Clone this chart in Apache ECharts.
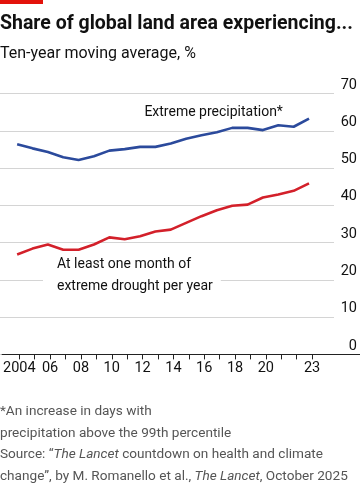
<!DOCTYPE html>
<html><head><meta charset="utf-8">
<script src="https://cdn.jsdelivr.net/npm/echarts@6/dist/echarts.min.js"></script>
<style>html,body{margin:0;padding:0;background:#fff}#c{width:360px;height:484px}</style>
</head><body><div id="c"></div>
<script>
const years = [2004,2005,2006,2007,2008,2009,2010,2011,2012,2013,2014,2015,2016,2017,2018,2019,2020,2021,2022,2023];
const precipitation = [56.4,55.3,54.3,52.9,52.2,53.2,54.7,55.1,55.7,55.7,56.6,57.9,58.8,59.6,60.8,60.8,60.2,61.5,61.1,63.3];
const drought = [26.8,28.4,29.5,28.1,28.1,29.5,31.4,30.9,31.7,33.0,33.5,35.3,37.1,38.7,39.9,40.2,42.1,42.9,43.9,45.9];
const tickYears = years;
const labelYears = [2004,2006,2008,2010,2012,2014,2016,2018,2020,2023];
const yTicks = [0,10,20,30,40,50,60,70];

const FONT = 'Roboto, "Noto Sans", sans-serif';
const chart = echarts.init(document.getElementById('c'), null, {renderer:'canvas'});
const pxPerYear = 15.5;
const xMin = 2004 - 17.3/pxPerYear;
const lbl = {fontFamily:FONT, fontSize:14, color:'#111', fontWeight:'normal'};
const FN = 13.6;
chart.setOption({
  animation:false,
  textStyle:{fontFamily:FONT},
  title:[
    {text:'Share of global land area experiencing...', left:0, top:14, padding:0,
     textStyle:{fontFamily:FONT, fontSize:19.5, fontWeight:'bold', color:'#111'}},
    {text:'Ten-year moving average, %', left:0, top:46, padding:0,
     textStyle:{fontFamily:FONT, fontSize:16, fontWeight:'normal', color:'#111'}},
    {text:'*An increase in days with\nprecipitation above the 99th percentile', left:0, top:401, padding:0,
     textStyle:{fontFamily:FONT, fontSize:FN, fontWeight:'normal', color:'#555', lineHeight:21.5}},
    {text:'{n|Source: \u201c}{i|The Lancet}{n| countdown on health and climate}\n{n|change\u201d, by M. Romanello et al., }{i|The Lancet}{n|, October 2025}',
     left:0, top:444, padding:0,
     textStyle:{fontFamily:FONT, fontSize:FN, fontWeight:'normal', color:'#555', lineHeight:21.5,
       rich:{n:{fontFamily:FONT,fontSize:FN,fontWeight:'normal',color:'#555',lineHeight:21.5},
             i:{fontFamily:FONT,fontSize:FN,fontWeight:'normal',color:'#555',fontStyle:'italic',lineHeight:21.5}}}}
  ],
  graphic:[{type:'rect', shape:{x:0,y:0,width:43,height:4}, style:{fill:'#e3120b'}}],
  grid:[
    {left:0, right:23, top:93.6, bottom:129.6},
    {left:0, right:0, top:93.6, bottom:129.6}
  ],
  xAxis:[
    {type:'value', gridIndex:0, min:xMin, max:xMin+337/pxPerYear, show:false, splitLine:{show:false}},
    {type:'value', gridIndex:1, min:xMin, max:xMin+360/pxPerYear,
     axisLine:{show:true, onZero:false, lineStyle:{color:'#222', width:1}},
     axisTick:{show:true, length:5, customValues:tickYears, lineStyle:{color:'#222'}},
     axisLabel:Object.assign({show:true, customValues:labelYears, margin:6,
       formatter:v=> v===2004 ? '2004' : String(v).slice(2)}, lbl, {fontSize:14.5}),
     splitLine:{show:false}}
  ],
  yAxis:[
    {type:'value', gridIndex:0, position:'right', min:0, max:70, interval:10,
     axisLine:{show:false}, axisTick:{show:false},
     axisLabel:Object.assign({show:true, inside:false, margin:23, align:'right', verticalAlign:'bottom', lineHeight:17,
       customValues:yTicks}, lbl, {fontSize:14.5}),
     splitLine:{show:true, lineStyle:{color:'#d4d4d4', width:1}}},
    {type:'value', gridIndex:1, min:0, max:70, show:false, splitLine:{show:false}}
  ],
  series:[
    {type:'line', name:'Extreme precipitation*', xAxisIndex:0, yAxisIndex:0,
     data:years.map((y,i)=>[y,precipitation[i]]), showSymbol:false, symbol:'none',
     lineStyle:{color:'#2b4a9c', width:2.6}, z:3,
     markPoint:{symbol:'rect', symbolSize:1, itemStyle:{color:'rgba(0,0,0,0)'}, silent:true, data:[{coord:[2012.25,65.05],
       label:Object.assign({show:true, position:'right', distance:0, formatter:'Extreme precipitation*'}, lbl)}]}},
    {type:'line', name:'drought', xAxisIndex:0, yAxisIndex:0,
     data:years.map((y,i)=>[y,drought[i]]), showSymbol:false, symbol:'none',
     lineStyle:{color:'#d3202a', width:2.6}, z:3,
     markPoint:{symbol:'rect', symbolSize:1, itemStyle:{color:'rgba(0,0,0,0)'}, silent:true, data:[{coord:[2005.65,21.2],
       label:Object.assign({show:true, position:'right', distance:0, formatter:'At least one month of\nextreme drought per year',
         lineHeight:22, backgroundColor:'#fff', padding:[2,8,2,14]}, lbl)}]}}
  ]
});
</script></body></html>
